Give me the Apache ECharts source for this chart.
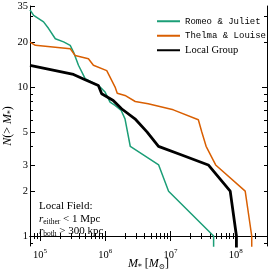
<!DOCTYPE html>
<html><head><meta charset="utf-8">
<script src="https://cdn.jsdelivr.net/npm/echarts@6/dist/echarts.min.js"></script>
<style>html,body{margin:0;padding:0;background:#fff}#c{width:274px;height:274px}</style>
</head><body><div id="c"></div>
<script>
// ---- data (stellar mass in Msun, cumulative count N(>M*)) ----
const massRJ = [7.0e4, 7.96e4, 1.13e5, 1.35e5, 1.71e5, 2.29e5, 2.89e5, 3.25e5, 3.87e5, 4.90e5, 6.96e5, 8.30e5, 9.89e5, 1.18e6, 1.41e6, 1.75e6, 2.0e6, 2.41e6, 6.56e6, 9.31e6, 4.56e7, 4.56e7];
const nRJ    = [33, 30.3, 27.4, 24.7, 21.1, 20.1, 19.05, 17.2, 14.0, 11.4, 10.5, 10.0, 9.26, 7.93, 7.52, 6.96, 6.12, 3.99, 3.0, 2.0, 1.0, 0.5];
const massTL = [7.0e4, 8.45e4, 2.89e5, 3.44e5, 5.50e5, 6.56e5, 1.05e6, 1.41e6, 1.52e6, 2.0e6, 2.87e6, 4.53e6, 1.10e7, 2.66e7, 2.99e7, 3.5e7, 4.9e7, 1.39e8, 1.75e8, 1.75e8];
const nTL    = [20.0, 19.05, 18.1, 16.3, 15.5, 14.0, 12.9, 10.0, 9.09, 8.78, 8.0, 7.72, 7.03, 6.03, 5.03, 4.0, 3.0, 2.0, 1.0, 0.5];
const massLG = [7.0e4, 3.25e5, 4.90e5, 7.82e5, 8.78e5, 1.32e6, 1.77e6, 2.84e6, 4.34e6, 6.52e6, 1.48e7, 3.78e7, 8.19e7, 1.02e8, 1.02e8];
const nLG    = [14.0, 12.15, 11.2, 10.25, 9.02, 8.13, 7.15, 6.12, 5.0, 4.0, 3.5, 3.0, 2.0, 1.0, 0.5];
const seriesNames = ['Romeo & Juliet', 'Thelma & Louise', 'Local Group'];

const xMajorTicks = [1e5, 1e6, 1e7, 1e8];
const xMinorTicks = [8e4, 9e4, 2e5, 3e5, 4e5, 5e5, 6e5, 7e5, 8e5, 9e5, 2e6, 3e6, 4e6, 5e6, 6e6, 7e6, 8e6, 9e6, 2e7, 3e7, 4e7, 5e7, 6e7, 7e7, 8e7, 9e7, 2e8];
const yLabelTicks = [1, 2, 3, 5, 10, 20, 35];
const yLeftMinor = [0.9, 4, 6, 7, 8, 9, 30];
const yRightMajor = [1, 10];
const yRightMinor = [0.9, 2, 3, 4, 5, 6, 7, 8, 9, 20, 30];
const xRange = [7e4, 3e8];
const yRange = [0.857, 35];

const L = Math.log10;
const pts = (xs, ys) => xs.map((x, i) => [L(x), L(ys[i])]);
const serif = 'Liberation Serif';

const xBase = {type: 'value', min: L(xRange[0]), max: L(xRange[1]), splitLine: {show: false}};
const yBase = {type: 'value', min: L(yRange[0]), max: L(yRange[1]), splitLine: {show: false}};
const line = {show: true, lineStyle: {color: '#000', width: 1}};

const chart = echarts.init(document.getElementById('c'), null, {renderer: 'canvas'});
chart.setOption({
  animation: false,
  backgroundColor: '#fff',
  grid: {left: 30, right: 7, top: 6, bottom: 28, containLabel: false, outerBoundsMode: 'none'},
  xAxis: [
    Object.assign({}, xBase, {position: 'bottom', axisLine: line,
      axisTick: {inside: true, length: 5, lineStyle: {color: '#000'}, customValues: xMajorTicks.map(L)},
      axisLabel: {customValues: xMajorTicks.map(L), margin: 2, color: '#000', fontFamily: serif,
        formatter: v => '{b|10}{s|' + Math.round(v) + '}',
        rich: {b: {fontSize: 10.5, fontFamily: serif, color: '#000'}, s: {fontSize: 7, fontFamily: serif, color: '#000', padding: [0, 0, 8, 0]}}},
      name: '{i|M}{sub|*} [{i|M}{sub|⊙}]', nameLocation: 'middle', nameGap: 11, nameMoveOverlap: false,
      nameTextStyle: {fontFamily: serif, fontSize: 12, color: '#000',
        rich: {i: {fontFamily: serif, fontStyle: 'italic', fontSize: 12, color: '#000'}, sub: {fontFamily: 'DejaVu Serif', fontSize: 7.5, color: '#000', padding: [6, 0, 0, 0]}}}}),
    Object.assign({}, xBase, {position: 'bottom', axisLine: {show: false}, axisLabel: {show: false},
      axisTick: {inside: true, length: 3, lineStyle: {color: '#000'}, customValues: xMinorTicks.map(L)}}),
    Object.assign({}, xBase, {position: 'top', axisLine: line, axisLabel: {show: false},
      axisTick: {inside: true, length: 5, lineStyle: {color: '#000'}, customValues: xMajorTicks.map(L)}}),
    Object.assign({}, xBase, {position: 'top', axisLine: {show: false}, axisLabel: {show: false},
      axisTick: {inside: true, length: 3, lineStyle: {color: '#000'}, customValues: xMinorTicks.map(L)}})
  ],
  yAxis: [
    Object.assign({}, yBase, {position: 'left', axisLine: line,
      axisTick: {inside: true, length: 5, lineStyle: {color: '#000'}, customValues: yLabelTicks.map(L)},
      axisLabel: {customValues: yLabelTicks.map(L), margin: 2, color: '#000', fontFamily: serif, fontSize: 10.5,
        formatter: v => String(Math.round(Math.pow(10, v)))},
      name: '{i|N}(> {i|M}{sub|*})', nameLocation: 'middle', nameRotate: 90, nameGap: 15, nameMoveOverlap: false,
      nameTextStyle: {fontFamily: serif, fontSize: 12, color: '#000',
        rich: {i: {fontFamily: serif, fontStyle: 'italic', fontSize: 12, color: '#000'}, sub: {fontFamily: serif, fontSize: 7.5, color: '#000', padding: [6, 0, 0, 0]}}}}),
    Object.assign({}, yBase, {position: 'left', axisLine: {show: false}, axisLabel: {show: false},
      axisTick: {inside: true, length: 3, lineStyle: {color: '#000'}, customValues: yLeftMinor.map(L)}}),
    Object.assign({}, yBase, {position: 'right', axisLine: line, axisLabel: {show: false},
      axisTick: {inside: true, length: 5, lineStyle: {color: '#000'}, customValues: yRightMajor.map(L)}}),
    Object.assign({}, yBase, {position: 'right', axisLine: {show: false}, axisLabel: {show: false},
      axisTick: {inside: true, length: 3, lineStyle: {color: '#000'}, customValues: yRightMinor.map(L)}})
  ],
  legend: {
    orient: 'vertical', left: 152, top: 10.5, itemWidth: 23, itemHeight: 2, itemGap: 3, icon: 'rect',
    textStyle: {fontFamily: 'Liberation Mono', fontSize: 9, color: '#000', lineHeight: 11.5},
    data: [
      {name: seriesNames[0]},
      {name: seriesNames[1]},
      {name: seriesNames[2], textStyle: {fontFamily: serif, fontSize: 10.5}}
    ]
  },
  graphic: [
    {type: 'text', left: 39, top: 201, style: {text: 'Local Field:', fontFamily: serif, fontSize: 11, fill: '#000'}},
    {type: 'text', left: 39, top: 214, style: {text: '{i|r}{s|either} < 1 Mpc', fontFamily: serif, fontSize: 11, fill: '#000',
      rich: {i: {fontFamily: serif, fontStyle: 'italic', fontSize: 11}, s: {fontFamily: serif, fontSize: 7.5, padding: [5, 0, 0, 0]}}}},
    {type: 'text', left: 39, top: 226, style: {text: '{i|r}{s|both} > 300 kpc', fontFamily: serif, fontSize: 11, fill: '#000',
      rich: {i: {fontFamily: serif, fontStyle: 'italic', fontSize: 11}, s: {fontFamily: serif, fontSize: 7.5, padding: [5, 0, 0, 0]}}}}
  ],
  series: [
    {name: seriesNames[0], type: 'line', xAxisIndex: 0, yAxisIndex: 0, data: pts(massRJ, nRJ), showSymbol: false, symbol: 'none',
      color: '#1b9e77', lineStyle: {width: 1.5, color: '#1b9e77'}},
    {name: seriesNames[1], type: 'line', xAxisIndex: 0, yAxisIndex: 0, data: pts(massTL, nTL), showSymbol: false, symbol: 'none',
      color: '#d95f02', lineStyle: {width: 1.5, color: '#d95f02'}},
    {name: seriesNames[2], type: 'line', xAxisIndex: 0, yAxisIndex: 0, data: pts(massLG, nLG), showSymbol: false, symbol: 'none',
      color: '#000', lineStyle: {width: 2.8, color: '#000'}}
  ]
});
</script></body></html>
